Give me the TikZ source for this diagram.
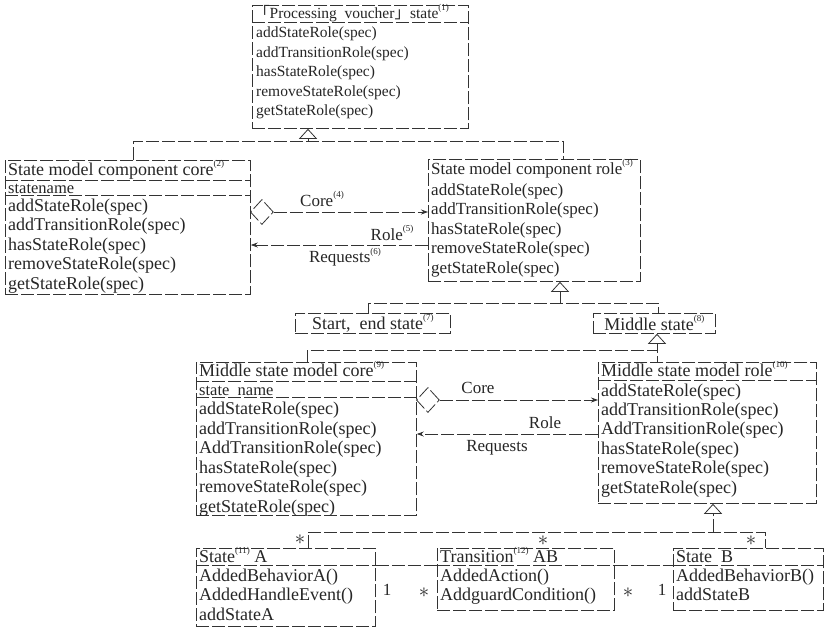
\documentclass[tikz,border=0pt]{standalone}
\usepackage{fontspec}
\setmainfont{Liberation Serif}
\newfontfamily\cjkfont{Noto Sans CJK SC}
\usetikzlibrary{arrows.meta,shapes.geometric,calc}
\newcommand{\sups}[1]{\raisebox{0.5em}{\fontsize{9}{9}\selectfont(#1)}}
\begin{document}
\begin{tikzpicture}[x=1pt,y=-1pt,
  ln/.style={draw=black!80, line width=0.8pt, dash pattern=on 13pt off 3pt},
  cbox/.style={ln, rectangle, inner sep=0pt, anchor=north west},
  tx/.style={anchor=base west, inner sep=0pt, text=black!85},
  lb/.style={inner sep=0pt, text=black!85, font=\fontsize{17}{19}\selectfont},
  fa/.style={font=\fontsize{15.5}{19.5}\selectfont},
  fb/.style={font=\fontsize{18}{19.5}\selectfont},
  fs/.style={font=\fontsize{16.5}{19.5}\selectfont},
  fc/.style={font=\fontsize{17}{19.5}\selectfont},
  gen/.style={ln, -{Triangle[open, length=10pt, width=18pt, line width=0.8pt]}},
  arr/.style={ln, -{Stealth[length=7pt, width=5pt]}},
  agg/.style={ln, diamond, inner sep=0pt, minimum width=23pt, minimum height=25pt, anchor=west},
  mult/.style={inner sep=0pt, text=black!85, font=\fontsize{20}{20}\selectfont}
]
\useasboundingbox[fill=white] (0,0) rectangle (828,633);

% ---------- top box ----------
\node[cbox, minimum width=216pt, minimum height=123pt] (top) at (252,5) {};
\draw[ln] ($(top.north west)+(0,17)$) -- ($(top.north east)+(0,17)$);
\node[tx,fa] (top-t) at (254,18.5) {{\cjkfont 「}Processing\ \ voucher{\cjkfont 」}state\sups{1}};
\foreach \t [count=\i from 0] in {addStateRole(spec),addTransitionRole(spec),hasStateRole(spec),removeStateRole(spec),getStateRole(spec)}
  \node[tx,fa] (top-\i) at (256,37.5+19.5*\i) {\t};

% ---------- left box ----------
\node[cbox, minimum width=245pt, minimum height=134pt] (left) at (5,160) {};
\draw[ln] ($(left.north west)+(0,20)$) -- ($(left.north east)+(0,20)$);
\draw[ln] ($(left.north west)+(0,35)$) -- ($(left.north east)+(0,35)$);
\node[tx,fb] (left-t) at (8,175.5) {State\ model\ component\ core\sups{2}};
\node[tx,fs] (left-s) at (8,193) {statename};
\foreach \t [count=\i from 0] in {addStateRole(spec),addTransitionRole(spec),hasStateRole(spec),removeStateRole(spec),getStateRole(spec)}
  \node[tx,fb] (left-\i) at (8,211+19.5*\i) {\t};

% ---------- right box ----------
\node[cbox, minimum width=212pt, minimum height=122pt] (right) at (428,159) {};
\node[tx,fc] (right-t) at (431,174) {State\ model\ component\ role\sups{3}};
\foreach \t [count=\i from 0] in {addStateRole(spec),addTransitionRole(spec),hasStateRole(spec),removeStateRole(spec),getStateRole(spec)}
  \node[tx,fc] (right-\i) at (431,195+19.5*\i) {\t};

% ---------- generalization 1 ----------
\coordinate (g1) at (308,141);
\draw[gen] (g1) -- (g1 |- top.south);
\draw[ln] (left.north -| 133,0) -- (133,141) -- (563,141) -- (right.north -| 563,0);

% ---------- core / role associations (top) ----------
\node[agg] (d1) at (250,212) {};
\draw[arr] (d1.east) -- (right.west |- d1.east);
\draw[arr] (right.west |- 0,245) -- (left.east |- 0,245);
\node[lb] (core1) at (322,199) {Core\sups{4}};
\node[lb] (role1) at (392,233) {Role\sups{5}};
\node[lb] (req1) at (345,257) {Requests\sups{6}};

% ---------- start/end and middle state ----------
\node[cbox, minimum width=155pt, minimum height=20pt] (se) at (295,313) {};
\node[lb, font=\fontsize{18}{19}\selectfont] (se-t) at (se.center) {Start,\ \ end\ state\sups{7}};
\node[cbox, minimum width=122pt, minimum height=20pt] (ms) at (593,313) {};
\node[lb, font=\fontsize{18}{19}\selectfont] (ms-t) at (ms.center) {Middle\ state\sups{8}};

\draw[gen] (560,303) -- (right.south -| 560,0);
\draw[ln] (se.north -| 368,0) -- (368,303) -- (658,303) -- (ms.north -| 658,0);

% ---------- middle state model core ----------
\node[cbox, minimum width=220pt, minimum height=153pt] (mc) at (196,362) {};
\draw[ln] ($(mc.north west)+(0,19)$) -- ($(mc.north east)+(0,19)$);
\draw[ln] ($(mc.north west)+(0,35)$) -- ($(mc.north east)+(0,35)$);
\node[tx,fb] (mc-t) at (199,376) {Middle\ state\ model\ core\sups{9}};
\node[tx,fs] (mc-s) at (199,395) {state\ \ name};
\foreach \t [count=\i from 0] in {addStateRole(spec),addTransitionRole(spec),AddTransitionRole(spec),hasStateRole(spec),removeStateRole(spec),getStateRole(spec)}
  \node[tx,fb] (mc-\i) at (199,414.5+19.5*\i) {\t};

% ---------- middle state model role ----------
\node[cbox, minimum width=218pt, minimum height=141pt] (mr) at (598,362) {};
\draw[ln] ($(mr.north west)+(0,18)$) -- ($(mr.north east)+(0,18)$);
\node[tx,fb] (mr-t) at (601,376) {Middle\ state\ model\ role\sups{10}};
\foreach \t [count=\i from 0] in {addStateRole(spec),addTransitionRole(spec),AddTransitionRole(spec),hasStateRole(spec),removeStateRole(spec),getStateRole(spec)}
  \node[tx,fb] (mr-\i) at (601,396+19.4*\i) {\t};

\draw[gen] (657,350) -- (ms.south -| 657,0);
\draw[ln] (mc.north -| 307,0) -- (307,350) -- (657,350) -- (mr.north -| 657,0);

% ---------- core / role associations (middle) ----------
\node[agg] (d2) at (416,400) {};
\draw[arr] (d2.east) -- (mr.west |- d2.east);
\draw[arr] (mr.west |- 0,434) -- (mc.east |- 0,434);
\node[lb] (core2) at (478,388) {Core};
\node[lb] (role2) at (545,423) {Role};
\node[lb] (req2) at (497,448) {Requests};

% ---------- bottom classes ----------
\node[cbox, minimum width=179pt, minimum height=78pt] (sa) at (196,548) {};
\draw[ln] ($(sa.north west)+(0,17)$) -- ($(sa.north east)+(0,17)$);
\node[tx,fb] (sa-t) at (199,562) {State\sups{11}\ A};
\foreach \t [count=\i from 0] in {AddedBehaviorA(),AddedHandleEvent(),addStateA}
  \node[tx,fb] (sa-\i) at (199,581+19.5*\i) {\t};

\node[cbox, minimum width=177pt, minimum height=62pt] (tr) at (437,548) {};
\draw[ln] ($(tr.north west)+(0,17)$) -- ($(tr.north east)+(0,17)$);
\node[tx,fb] (tr-t) at (440,562) {Transition\sups{12}\ AB};
\foreach \t [count=\i from 0] in {AddedAction(),AddguardCondition()}
  \node[tx,fb] (tr-\i) at (440,581+19.5*\i) {\t};

\node[cbox, minimum width=150pt, minimum height=62pt] (sb) at (673,548) {};
\draw[ln] ($(sb.north west)+(0,17)$) -- ($(sb.north east)+(0,17)$);
\node[tx,fb] (sb-t) at (676,562) {State\ \ B};
\foreach \t [count=\i from 0] in {AddedBehaviorB(),addStateB}
  \node[tx,fb] (sb-\i) at (676,581+19.5*\i) {\t};

\draw[gen] (713,532) -- (mr.south -| 713,0);
\draw[ln] (sa.north -| 308,0) -- (308,532) -- (765,532) -- (sb.north -| 765,0);

\draw[ln] (sa.east |- 0,565) -- (tr.west |- 0,565);
\draw[ln] (tr.east |- 0,565) -- (sb.west |- 0,565);

% ---------- multiplicities ----------
\node[mult] (m1) at (300,540) {$\ast$};
\node[mult] (m2) at (543,541) {$\ast$};
\node[mult] (m3) at (751,541) {$\ast$};
\node[mult] (m4) at (424,593) {$\ast$};
\node[mult] (m5) at (628,593) {$\ast$};
\node[lb] (n1) at (387,590) {1};
\node[lb] (n2) at (662,590) {1};
\end{tikzpicture}
\end{document}
